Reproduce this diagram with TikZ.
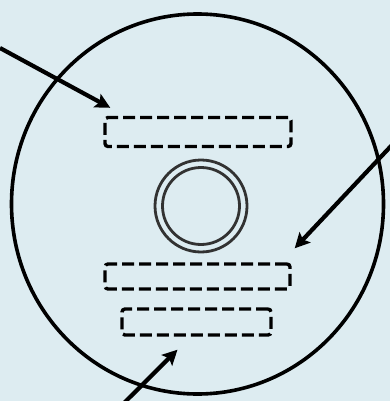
\documentclass[tikz,border=0pt]{standalone}
\usepackage{tikz}
\usetikzlibrary{arrows.meta,calc}
\definecolor{discbg}{RGB}{221,236,241}
\definecolor{hubgray}{RGB}{50,50,50}

\begin{document}
\begin{tikzpicture}
    [
        x=1pt, y=-1pt,
        labelbox/.style={draw, line width=3.4pt, dash pattern=on 12pt off 5pt,
                         rounded corners=3pt, inner sep=0pt},
        pointer/.style={draw, line width=4.2pt, -{Stealth[length=15pt,width=15pt,inset=3pt]}}
    ]
        \fill[discbg] (0,0) rectangle (390,401);
        \useasboundingbox (0,0) rectangle (390,401);

        \draw[line width=3.6pt] (197.5,204) ellipse [x radius=186, y radius=190];

        \draw[hubgray, line width=2.8pt] (201,206) circle [radius=46];
        \draw[hubgray, line width=2.8pt] (201,206) circle [radius=38.5];

        \node[labelbox, minimum width=186pt, minimum height=29pt] (lbl-1) at (198,132) {};
        \node[labelbox, minimum width=185pt, minimum height=25pt] (lbl-2) at (197.5,276.5) {};
        \node[labelbox, minimum width=149pt, minimum height=26pt] (lbl-3) at (196.5,322) {};

        \coordinate (src-1) at (0,48);
        \coordinate (tip-1) at ($(lbl-1.north west)+(7,-8)$);
        \coordinate (src-2) at (392,145);
        \coordinate (tip-2) at ($(lbl-2.north east)+(3,-14)$);
        \coordinate (src-3) at (124,403);
        \coordinate (tip-3) at ($(lbl-3.south)+(-19,13)$);

        \draw[pointer] (src-1) -- (tip-1);
        \draw[pointer] (src-2) -- (tip-2);
        \draw[pointer] (src-3) -- (tip-3);

    \end{tikzpicture}
\end{document}
